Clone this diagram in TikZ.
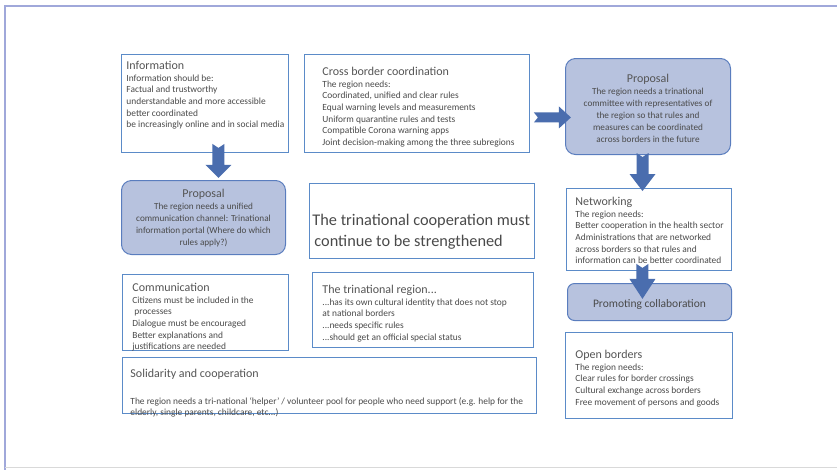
\documentclass[tikz,border=0pt]{standalone}
\usepackage{fontspec}
\setmainfont{Carlito}
\usetikzlibrary{calc}
\definecolor{boxc}{HTML}{5B8BC8}
\definecolor{propfill}{HTML}{B7C2DE}
\definecolor{propdraw}{HTML}{5A7DBE}
\definecolor{arrc}{HTML}{4A6DAE}
\definecolor{txtc}{HTML}{4A4A4A}
\definecolor{ttlc}{HTML}{555555}
\definecolor{framec}{HTML}{A0A8DA}
% W, H, left inset, first baseline, content
\newcommand{\bx}[5]{\begin{minipage}[t][#2][t]{#1}\raggedright\leftskip=#3\relax\rule{0pt}{#4}#5\end{minipage}}
% centred: W, H, first baseline, content
\newcommand{\cbx}[4]{\begin{minipage}[t][#2][t]{#1}\centering\rule{0pt}{#3}#4\end{minipage}}
\newcommand{\ttl}[1]{{\fontsize{12}{11.7}\selectfont\color{ttlc}#1}}
\newcommand{\blkdown}[3]{\fill[arrc] #1 ++(-6,0) -- ++(6,4) -- ++(6,-4) -- ++(0,#2) -- ++(7,0) -- ++(-13,#3) -- ++(-13,-#3) -- ++(7,0) -- cycle;}
\begin{document}
\begin{tikzpicture}[x=1pt,y=-1pt,
  box/.style={draw=boxc, line width=0.9pt, fill=white, anchor=north west, inner sep=0pt,
    text=txtc, font=\fontsize{9.4}{11.7}\selectfont},
  propbox/.style={draw=propdraw, line width=1pt, fill=propfill, rounded corners=10pt,
    anchor=north west, inner sep=0pt, text=txtc, font=\fontsize{9.2}{11.9}\selectfont}]
\useasboundingbox (0,0) rectangle (837,472);
% page frame
\draw[framec, line width=1.5pt] (837,6) -- (5,6) -- (5,470);
\draw[black!15, line width=1pt] (5,467) -- (837,467);

\node[box] (info) at (121,54) {\bx{167pt}{98pt}{5pt}{15pt}{\ttl{Information}\\
Information should be:\\
Factual and trustworthy\\
understandable and more accessible\\
better coordinated\\
be increasingly online and in social media}};

\node[box] (cross) at (304,54) {\bx{225pt}{98pt}{18pt}{21pt}{\ttl{Cross border coordination}\\
The region needs:\\
Coordinated, unified and clear rules\\
Equal warning levels and measurements\\
Uniform quarantine rules and tests\\
Compatible Corona warning apps\\
Joint decision-making among the three subregions}};

\node[propbox] (prop2) at (565,58) {\cbx{165pt}{96pt}{24pt}{\ttl{Proposal}\\
The region needs a trinational\\
committee with representatives of\\
the region so that rules and\\
measures can be coordinated\\
across borders in the future}};

\node[propbox] (prop1) at (121,180) {\cbx{164pt}{74pt}{17pt}{\ttl{Proposal}\\
The region needs a unified\\
communication channel: Trinational\\
information portal (Where do which\\
rules apply?)}};

\node[box] (mid) at (309,183) {\bx{225pt}{75pt}{3pt}{42pt}{\fontsize{16.3}{21}\selectfont
The trinational cooperation must\\
\hspace*{2pt}continue to be strengthened}};

\node[box] (net) at (566,188) {\bx{165pt}{82pt}{9pt}{17pt}{\ttl{Networking}\\
The region needs:\\
Better cooperation in the health sector\\
Administrations that are networked\\
across borders so that rules and\\
information can be better coordinated}};

\node[propbox, rounded corners=7pt] (prom) at (567,283) {\cbx{164pt}{37pt}{24pt}{\fontsize{11.5}{12}\selectfont Promoting collaboration}};

\node[box] (comm) at (122,274) {\bx{166pt}{76pt}{10pt}{17pt}{\ttl{Communication}\\
Citizens must be included in the\\
\hspace*{2pt}processes\\
Dialogue must be encouraged\\
Better explanations and\\
justifications are needed}};

\node[box] (trin) at (312,272) {\bx{221pt}{75pt}{10pt}{21pt}{\ttl{The trinational region...}\\
...has its own cultural identity that does not stop\\
at national borders\\
...needs specific rules\\
...should get an official special status}};

\node[box] (sol) at (122,357) {\bx{414pt}{56pt}{8pt}{20pt}{\ttl{Solidarity and cooperation}\\[15pt]
The region needs a tri-national `helper' / volunteer pool for people who need support (e.g. help for the\\
elderly, single parents, childcare, etc...)}};

\node[box] (open) at (565,332) {\bx{167pt}{86pt}{10pt}{26pt}{\ttl{Open borders}\\
The region needs:\\
Clear rules for border crossings\\
Cultural exchange across borders\\
Free movement of persons and goods}};

% block arrows
\coordinate (a1) at ($(info.south)+(13.5,-9)$);
\blkdown{(a1)}{21}{13}
\coordinate (a2) at ($(prop2.south)+(-5.5,-2)$);
\blkdown{(a2)}{21}{17}
\coordinate (a3) at ($(net.south)+(-6.5,-7)$);
\blkdown{(a3)}{15}{20}
\coordinate (a4) at ($(cross.east)+(4,14)$);
\fill[arrc] (a4) ++(0,-5) -- ++(25,0) -- ++(0,-6) -- ++(12,11) -- ++(-12,11) -- ++(0,-6) -- ++(-25,0) -- ++(4,-5) -- cycle;
\end{tikzpicture}
\end{document}
